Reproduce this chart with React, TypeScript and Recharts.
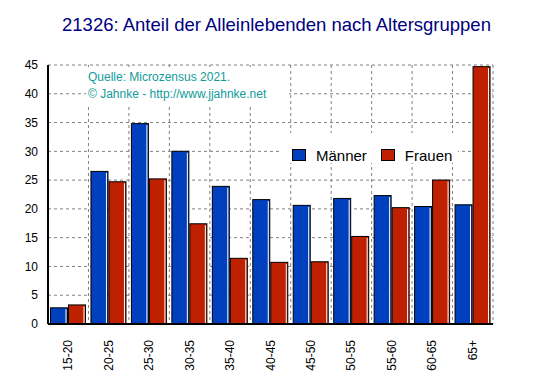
import { BarChart, Bar, XAxis, YAxis, CartesianGrid } from 'recharts';

const ageGroups = ['15-20', '20-25', '25-30', '30-35', '35-40', '40-45', '45-50', '50-55', '55-60', '60-65', '65+'];
const maenner = [2.9, 26.6, 34.9, 30.1, 24.0, 21.7, 20.7, 21.9, 22.4, 20.5, 20.8];
const frauen = [3.4, 24.8, 25.3, 17.5, 11.5, 10.8, 10.9, 15.3, 20.3, 25.1, 44.8];
const yTicks = [0, 5, 10, 15, 20, 25, 30, 35, 40, 45];

const BLUE = '#0040BE';
const RED = '#BE2000';
const FONT = '"Liberation Sans", Arial, sans-serif';

const data = ageGroups.map((group, i) => ({ group, m: maenner[i], f: frauen[i] }));

function FramedBar(props: any) {
  const { x, y, width, height, fill } = props;
  if (!height || height <= 0) return null;
  return (
    <g>
      <rect x={x + 0.5} y={y + 0.5} width={width - 1} height={height - 1} fill={fill} stroke="#000" strokeWidth={1} />
      <line x1={x + width - 2} y1={y + 2} x2={x + width - 2} y2={y + height} stroke="#fff" strokeWidth={1} />
    </g>
  );
}

function XTick(props: any) {
  const { x, y, payload } = props;
  return (
    <text
      x={0}
      y={0}
      transform={`translate(${x + 4},${y + 8}) rotate(-90)`}
      textAnchor="end"
      fontSize={12}
      fontFamily={FONT}
      fill="#000"
    >
      {payload.value}
    </text>
  );
}

const legendItems = [
  { label: 'Männer', color: BLUE },
  { label: 'Frauen', color: RED },
];

export default function App() {
  return (
    <div style={{ position: 'absolute', left: 0, top: 0, width: 553, height: 376, background: '#fff' }}>
      <div
        style={{
          position: 'absolute',
          left: 0,
          top: 14,
          width: 553,
          textAlign: 'center',
          fontFamily: FONT,
          fontSize: 18.5,
          color: '#000080',
        }}
      >
        21326: Anteil der Alleinlebenden nach Altersgruppen
      </div>
      <BarChart
        width={553}
        height={376}
        data={data}
        margin={{ top: 65, right: 60, bottom: 7, left: 0 }}
        barCategoryGap={2}
        barGap={0}
      >
        <CartesianGrid
          stroke="#808080"
          strokeDasharray="3 3"
          verticalCoordinatesGenerator={({ offset }: any) =>
            Array.from({ length: ageGroups.length + 1 }, (_, i) => offset.left + (i * offset.width) / ageGroups.length)
          }
        />
        <XAxis
          dataKey="group"
          interval={0}
          height={45}
          tick={<XTick />}
          tickLine={false}
          axisLine={{ stroke: '#000', strokeWidth: 2 }}
        />
        <YAxis
          domain={[0, 45]}
          ticks={yTicks}
          width={48}
          tickLine={false}
          tickMargin={4}
          axisLine={{ stroke: '#000', strokeWidth: 2 }}
          tick={{ fontSize: 12, fontFamily: FONT, fill: '#000' }}
        />
        <Bar dataKey="m" name="Männer" fill={BLUE} shape={<FramedBar />} isAnimationActive={false} />
        <Bar dataKey="f" name="Frauen" fill={RED} shape={<FramedBar />} isAnimationActive={false} />
      </BarChart>
      <div
        style={{
          position: 'absolute',
          left: 86,
          top: 67,
          width: 203,
          height: 37,
          paddingLeft: 2,
          boxSizing: 'border-box',
          background: '#fff',
          fontFamily: FONT,
          fontSize: 12,
          lineHeight: '17px',
          color: '#109A9A',
        }}
      >
        <div style={{ marginTop: 2 }}>Quelle: Microzensus 2021.</div>
        <div>© Jahnke - http://www.jjahnke.net</div>
      </div>
      <div
        style={{
          position: 'absolute',
          left: 282,
          top: 133,
          width: 176,
          height: 30,
          paddingLeft: 10,
          paddingTop: 14,
          boxSizing: 'border-box',
          background: '#fff',
          display: 'flex',
          alignItems: 'center',
          fontFamily: FONT,
          fontSize: 15,
        }}
      >
        {legendItems.map(it => (
          <div key={it.label} style={{ display: 'flex', alignItems: 'center', marginRight: 14 }}>
            <span
              style={{
                display: 'inline-block',
                width: 12,
                height: 10,
                background: it.color,
                border: '1px solid #000',
                marginRight: 10,
              }}
            />
            <span>{it.label}</span>
          </div>
        ))}
      </div>
    </div>
  );
}
